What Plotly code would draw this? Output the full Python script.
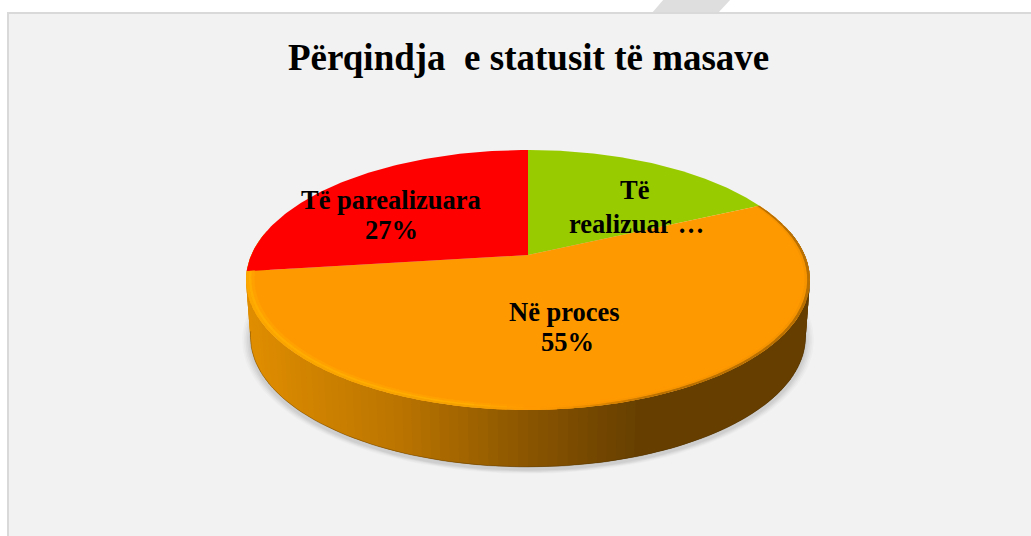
import numpy as np
import plotly.graph_objects as go

title = "Përqindja  e statusit të masave"
categories = ["Të realizuara", "Në proces", "Të parealizuara"]
values = [18, 55, 27]
colors = ["#99CC00", "#FF9900", "#FF0000"]
label_lines = ["Të", "realizuar …", "Në proces", "55%", "Të parealizuara", "27%"]
label_xy = [(635, 190), (636, 224), (564, 312), (567, 342), (391, 200), (391, 230)]

W, H = 1031, 536
CX, CY = 528.0, 255.0
A, AY, B = 276.7, 125.2, 0.192
DEPTH = 57.0


def project(theta, r=1.0, drop=0.0):
    """theta in radians, clockwise from 12 o'clock on the disc."""
    x = r * np.sin(theta)
    z = -r * np.cos(theta)
    d = 1 - B * z
    sx = 1 - 0.0155 * (drop / DEPTH)
    return CX + sx * A * x / d, CY + AY * z / d + drop


def polygon(xs, ys, fill):
    return go.Scatter(x=list(xs), y=list(ys), mode="lines", fill="toself",
                      fillcolor=fill, line=dict(width=0), hoverinfo="skip",
                      showlegend=False)


def mix(c1, c2, t):
    t = min(1.0, max(0.0, t))
    return tuple(a + (b - a) * t for a, b in zip(c1, c2))


def css(c):
    return "rgb(%d,%d,%d)" % tuple(round(v) for v in c)


traces = []
circle = np.linspace(0, 2 * np.pi, 181)

# soft shadow beneath the pie
for grow, alpha in [(1.03, 0.018), (1.024, 0.022), (1.018, 0.03), (1.012, 0.035), (1.006, 0.04)]:
    sx, sy = project(circle, 1.0, DEPTH)
    traces.append(polygon(CX + (sx - CX) * grow, 335 + (sy - 335) * grow + 3,
                          "rgba(0,0,0,%g)" % alpha))

# wedge boundaries, from the values
frac = np.cumsum([0] + values) / sum(values)
angles = 2 * np.pi * frac
start, stop = angles[1], angles[2]

# side wall of the orange slice, shaded left to right; each piece overlaps the next
side_stops = [(240, (226, 143, 0)), (400, (186, 116, 0)), (528, (138, 85, 0)),
              (640, (102, 63, 0)), (820, (102, 63, 0))]


def side_colour(xm):
    for (p0, c0), (p1, c1) in zip(side_stops[:-1], side_stops[1:]):
        if p0 <= xm <= p1:
            return mix(c0, c1, (xm - p0) / (p1 - p0))
    return side_stops[0][1] if xm < side_stops[0][0] else side_stops[-1][1]


side_angles = np.linspace(3 * np.pi / 2 + 0.2, np.pi / 2 - 0.2, 121)
for t0, t1 in zip(side_angles[:-1], side_angles[1:]):
    arc = np.array([t0, t1, t1 - 0.03])
    ex, ey = project(arc)
    bx, by = project(arc[::-1], 1.0, DEPTH)
    xm = float(project((t0 + t1) / 2)[0])
    traces.append(polygon(np.r_[ex, bx, ex[0]], np.r_[ey, by, ey[0]], css(side_colour(xm))))

# thin dark line on the lower edge of the wall
bt = np.linspace(np.pi / 2 + 0.15, 3 * np.pi / 2 - 0.15, 121)
bx, by = project(bt, 1.0, DEPTH)
traces.append(go.Scatter(x=bx, y=by, mode="lines", hoverinfo="skip", showlegend=False,
                         line=dict(width=1, color="rgba(70,42,0,0.35)")))

# top-face wedges
for i, c in enumerate(colors):
    t = np.linspace(angles[i], angles[i + 1], 121)
    ex, ey = project(t)
    traces.append(polygon(np.r_[CX, ex, CX], np.r_[CY, ey, CY], c))

# soft bevel along the front rim of the orange slice
FACE = (255, 153, 0)
HILITE = (255, 176, 0)
ring = np.linspace(start, stop, 71)
step = ring[1] - ring[0]
bands = [(0.972, 0.982, "a"), (0.982, 0.991, "b"), (0.991, 1.0, "c")]
for t0 in ring[:-1]:
    t1 = min(t0 + step * 1.6, stop)
    xm = float(project(t0 + step / 2)[0])
    left = min(1.0, max(0.0, (528 - xm) / 60))
    right = min(1.0, max(0.0, (xm - 540) / 120))
    for r0, r1, name in bands:
        if name == "a":
            col = mix(FACE, HILITE, 0.35 * left)
        elif name == "b":
            col = mix(FACE, HILITE, 0.85 * left)
            col = mix(col, (102, 63, 0), 0.06 * right)
        else:
            col = mix(FACE, HILITE, 0.75 * left)
            col = mix(col, side_colour(xm), 0.45 * right + 0.12 * left)
        arc = np.linspace(t0, t1, 3)
        x0, y0 = project(arc, r0)
        x1, y1 = project(arc[::-1], r1)
        traces.append(polygon(np.r_[x0, x1, x0[0]], np.r_[y0, y1, y0[0]], css(col)))

fig = go.Figure(traces)

annotations = [dict(x=528, y=57, text="<b>%s</b>" % title, showarrow=False, xref="x", yref="y",
                    font=dict(family="Liberation Serif", size=37, color="#000000"))]
for line, (lx, ly) in zip(label_lines, label_xy):
    annotations.append(dict(x=lx, y=ly, text="<b>%s</b>" % line, showarrow=False,
                            xref="x", yref="y", align="center",
                            font=dict(family="Liberation Serif", size=26.5, color="#000000")))

fig.update_layout(
    width=W, height=H, margin=dict(l=0, r=0, t=0, b=0),
    paper_bgcolor="#FFFFFF", plot_bgcolor="rgba(0,0,0,0)", showlegend=False,
    xaxis=dict(range=[0, W], visible=False, fixedrange=True),
    yaxis=dict(range=[H, 0], visible=False, fixedrange=True),
    annotations=annotations,
    shapes=[
        dict(type="path", path="M 664 -1 L 731 -1 L 718 13 L 652 13 Z", layer="below",
             fillcolor="#DEDEDE", line=dict(width=0)),
        dict(type="rect", x0=8, y0=13, x1=1040, y1=545, layer="below",
             fillcolor="#F2F2F2", line=dict(color="#D9D9D9", width=2)),
    ],
)

fig.write_html("out.html", config={"displayModeBar": False},
               post_script="document.body.style.margin='0';document.body.style.overflow='hidden';")
